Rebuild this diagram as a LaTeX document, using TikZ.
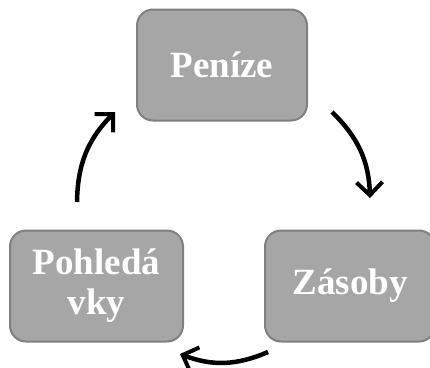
\documentclass[tikz,border=0pt]{standalone}
\usepackage{fontspec}
\setmainfont{Liberation Serif}
\usetikzlibrary{arrows.meta}
\tikzset{
  cyclebox/.style={draw=black!50,line width=2pt,fill=black!35,rounded corners=16pt,
    minimum width=170pt,minimum height=111pt,align=center,text=white,
    font=\fontsize{37}{40}\selectfont\bfseries},
  cyclearrow/.style={line width=4.5pt,-{Straight Barb[length=13pt,width=26pt,line width=4pt]},bend left=22}
}
\begin{document}
\begin{tikzpicture}[x=1pt,y=-1pt]
\clip (0,0) rectangle (430,367);
\node[cyclebox] (penize) at (222,65) {Peníze};
\node[cyclebox,minimum width=173pt] (pohledavky) at (96.5,286) {Pohledá\\vky};
\node[cyclebox] (zasoby) at (350,286) {Zásoby};
% konce sipek
\coordinate (p1) at (332,112);
\coordinate (z0) at (370,198);
\coordinate (z1) at (268,352);
\coordinate (h0) at (180,354);
\coordinate (h1) at (77,202);
\coordinate (p0) at (115,112);
\draw[cyclearrow] (p1) to (z0);
\draw[cyclearrow] (z1) to (h0);
\draw[cyclearrow] (h1) to (p0);
\end{tikzpicture}
\end{document}
